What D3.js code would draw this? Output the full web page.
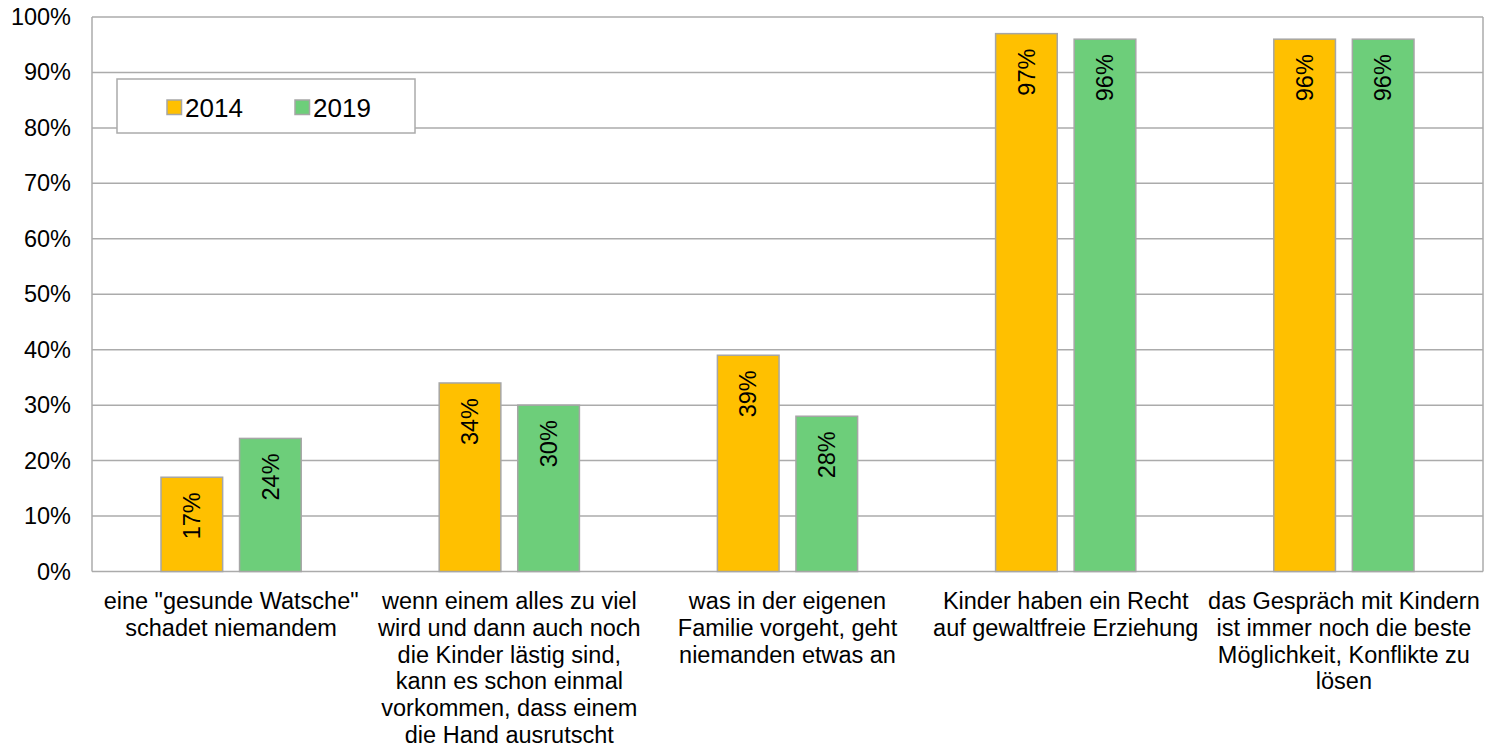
<!DOCTYPE html>
<html>
<head>
<meta charset="utf-8">
<script src="https://cdn.jsdelivr.net/npm/d3@7"></script>
<style>
  body { margin: 0; background: #fff; }
  text { font-family: Arial, "Liberation Sans", sans-serif; fill: #000; }
</style>
</head>
<body>
<svg id="chart" width="1495" height="748"></svg>
<script>
'use strict'

// categories, one array of lines per label
var categories = [
  ['eine "gesunde Watsche"', 'schadet niemandem'],
  ['wenn einem alles zu viel', 'wird und dann auch noch', 'die Kinder lästig sind,', 'kann es schon einmal', 'vorkommen, dass einem', 'die Hand ausrutscht'],
  ['was in der eigenen', 'Familie vorgeht, geht', 'niemanden etwas an'],
  ['Kinder haben ein Recht', 'auf gewaltfreie Erziehung'],
  ['das Gespräch mit Kindern', 'ist immer noch die beste', 'Möglichkeit, Konflikte zu', 'lösen']
];
var series = ['2014', '2019'];
var values2014 = [17, 34, 39, 97, 96];
var values2019 = [24, 30, 28, 96, 96];
var yTicks = [0, 10, 20, 30, 40, 50, 60, 70, 80, 90, 100];
var colors = ['#FFC000', '#6DCE7A'];

var svg = d3.select('#chart');
var plot = { left: 92, right: 1483, top: 17, bottom: 571.5 };
var fontSize = 23.5;

var x0 = d3.scaleBand()
    .domain(d3.range(categories.length))
    .range([plot.left, plot.right]);

var bw = x0.bandwidth();
var x1 = d3.scaleBand()
    .domain(series)
    .range([bw * 0.248, bw * 0.752])
    .paddingInner(0.215);

var y = d3.scaleLinear().domain([0, 100]).range([plot.bottom, plot.top]);

// gridlines
svg.append('g')
  .selectAll('line')
  .data(yTicks)
  .join('line')
    .attr('x1', plot.left).attr('x2', plot.right)
    .attr('y1', d => y(d)).attr('y2', d => y(d))
    .attr('stroke', '#ABABAB')
    .attr('stroke-width', 1.5);

// plot border (left and right)
[plot.left, plot.right].forEach(function(xv) {
  svg.append('line')
      .attr('x1', xv).attr('x2', xv).attr('y1', y(100)).attr('y2', y(0))
      .attr('stroke', '#ABABAB').attr('stroke-width', 1.5);
});

// y axis labels
var yAxis = d3.axisLeft(y).tickValues(yTicks).tickSize(0).tickPadding(21).tickFormat(d => d + '%');
var ya = svg.append('g').attr('transform', 'translate(' + plot.left + ',0)').call(yAxis);
ya.select('.domain').remove();
ya.selectAll('text')
    .style('font-family', 'Arial, "Liberation Sans", sans-serif')
    .style('font-size', fontSize + 'px')
    .attr('fill', '#000');

// bars
var rows = categories.map((c, i) => [
  { key: '2014', value: values2014[i], color: colors[0] },
  { key: '2019', value: values2019[i], color: colors[1] }
]);

var groups = svg.append('g')
  .selectAll('g')
  .data(rows)
  .join('g')
    .attr('transform', (d, i) => 'translate(' + x0(i) + ',0)');

groups.selectAll('rect')
  .data(d => d)
  .join('rect')
    .attr('x', d => x1(d.key))
    .attr('y', d => y(d.value))
    .attr('width', x1.bandwidth())
    .attr('height', d => y(0) - y(d.value))
    .attr('fill', d => d.color)
    .attr('stroke', '#A6A6A6')
    .attr('stroke-width', 1.5);

groups.selectAll('text')
  .data(d => d)
  .join('text')
    .attr('transform', d => 'translate(' + (x1(d.key) + x1.bandwidth() / 2) + ',' + (y(d.value) + 15) + ') rotate(-90)')
    .attr('text-anchor', 'end')
    .attr('dy', '0.35em')
    .style('font-size', fontSize + 'px')
    .text(d => d.value + '%');

// category labels
var cat = svg.append('g')
  .selectAll('text')
  .data(categories)
  .join('text')
    .attr('text-anchor', 'middle')
    .style('font-size', fontSize + 'px')
    .attr('transform', (d, i) => 'translate(' + (x0(i) + bw / 2) + ',609)');

cat.selectAll('tspan')
  .data(d => d)
  .join('tspan')
    .attr('x', 0)
    .attr('y', (d, i) => i * 26.8)
    .text(d => d);

// legend
var legend = svg.append('g');
legend.append('rect')
    .attr('x', 117).attr('y', 79).attr('width', 298).attr('height', 54)
    .attr('fill', '#fff').attr('stroke', '#ABABAB').attr('stroke-width', 1.5);

var legendX = [167, 295];
var items = legend.selectAll('g.item')
  .data(series)
  .join('g')
    .attr('class', 'item')
    .attr('transform', (d, i) => 'translate(' + legendX[i] + ',100)');

items.append('rect')
    .attr('width', 14.5).attr('height', 14.5)
    .attr('fill', (d, i) => colors[i])
    .attr('stroke', '#A6A6A6').attr('stroke-width', 1.5);

items.append('text')
    .attr('x', 18)
    .attr('y', 7.5)
    .attr('dy', '0.35em')
    .style('font-size', '26px')
    .text(d => d);
</script>
</body>
</html>
